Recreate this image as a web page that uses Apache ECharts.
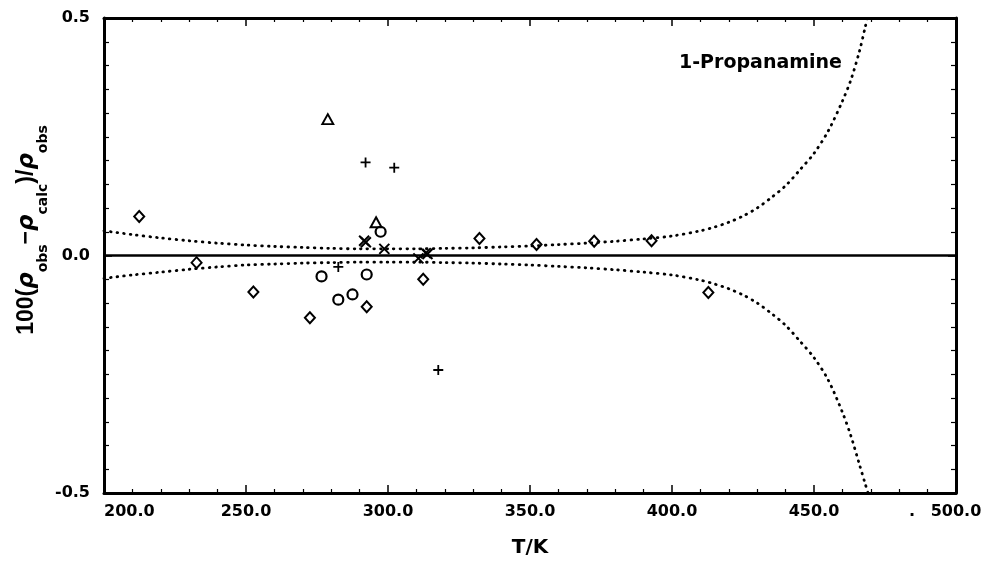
<!DOCTYPE html>
<html>
<head>
<meta charset="utf-8">
<script src="https://cdn.jsdelivr.net/npm/echarts/dist/echarts.min.js"></script>
<style>
  html, body { margin: 0; padding: 0; background: #fff; }
  #main { width: 990px; height: 563px; }
</style>
</head>
<body>
<div id="main"></div>
<script>
// 刻度
var xTicks = [200, 250, 300, 350, 400, 450, 500];
var yTicks = [-0.5, 0.0, 0.5];

// 计算值的置信带 (上/下)
var curveT     = [200, 210, 220, 230, 240, 250, 260, 270, 280, 290, 300, 310, 320, 330, 340, 350, 360, 370, 380, 390, 400, 410, 415, 420, 425, 430, 435, 440, 445, 450, 455, 460, 463, 466, 468, 470];
var curveUpper = [0.052, 0.044, 0.037, 0.031, 0.026, 0.022, 0.019, 0.017, 0.015, 0.014, 0.014, 0.014, 0.015, 0.016, 0.018, 0.020, 0.023, 0.026, 0.030, 0.035, 0.041, 0.052, 0.060, 0.070, 0.083, 0.100, 0.122, 0.147, 0.180, 0.215, 0.262, 0.325, 0.370, 0.430, 0.480, 0.530];
var curveLower = [-0.048, -0.041, -0.035, -0.029, -0.024, -0.020, -0.018, -0.016, -0.015, -0.014, -0.014, -0.014, -0.015, -0.016, -0.018, -0.020, -0.023, -0.026, -0.030, -0.035, -0.041, -0.052, -0.060, -0.070, -0.083, -0.100, -0.122, -0.147, -0.180, -0.215, -0.262, -0.330, -0.380, -0.440, -0.480, -0.520];

// 零线
var zeroT = [200, 500];
var zeroV = [0, 0];

// 各来源的实验点
var diamondT = [212.4, 232.6, 252.6, 272.5, 292.5, 312.4, 332.2, 352.3, 372.6, 392.8, 412.8];
var diamondV = [0.082, -0.015, -0.077, -0.131, -0.108, -0.050, 0.036, 0.023, 0.030, 0.031, -0.078];
var circleT  = [276.6, 282.5, 287.5, 292.5, 297.4];
var circleV  = [-0.044, -0.093, -0.082, -0.040, 0.050];
var plusT    = [282.5, 292.1, 302.2, 317.7];
var plusV    = [-0.024, 0.196, 0.185, -0.241];
var triT     = [278.8, 295.8];
var triV     = [0.287, 0.070];
var crossT   = [291.6, 292.2, 298.7, 310.7, 313.3, 313.9];
var crossV   = [0.031, 0.028, 0.014, -0.006, 0.005, 0.003];

function zip(a, b) {
  var out = [];
  for (var i = 0; i < a.length; i++) {
    out.push([a[i], b[i]]);
  }
  return out;
}

var FONT = 'DejaVu Sans';
var lineCol = '#000';

function axisCommon(showLabel) {
  return {
    type: 'value',
    axisLine: { show: true, onZero: false, lineStyle: { color: lineCol, width: 3 } },
    axisTick: { show: true, inside: true, length: 8, lineStyle: { color: lineCol, width: 1.5 } },
    splitLine: { show: false },
    axisLabel: {
      show: showLabel,
      color: '#000',
      fontFamily: FONT,
      fontWeight: 'bold',
      fontSize: 16,
      formatter: function (v) { return v.toFixed(1); }
    }
  };
}

var xBottom = axisCommon(true);
xBottom.position = 'bottom';
xBottom.min = xTicks[0];
xBottom.max = xTicks[xTicks.length - 1];
xBottom.interval = 50;
xBottom.minorTick = { show: true, splitNumber: 5, length: 4, lineStyle: { color: lineCol, width: 1.2 } };
xBottom.axisLabel.margin = 11;
xBottom.axisLabel.alignMinLabel = 'left';
xBottom.name = 'T/K';
xBottom.nameLocation = 'middle';
xBottom.nameGap = 45;
xBottom.nameTextStyle = { fontFamily: FONT, fontWeight: 'bold', fontSize: 20, color: '#000' };

var xTop = axisCommon(false);
xTop.position = 'top';
xTop.min = xTicks[0];
xTop.max = xTicks[xTicks.length - 1];
xTop.interval = 50;
xTop.minorTick = { show: true, splitNumber: 5, length: 4, lineStyle: { color: lineCol, width: 1.2 } };

var yLeft = axisCommon(true);
yLeft.position = 'left';
yLeft.min = yTicks[0];
yLeft.max = yTicks[yTicks.length - 1];
yLeft.interval = 0.5;
yLeft.minorTick = { show: true, splitNumber: 10, length: 5, lineStyle: { color: lineCol, width: 1.2 } };
yLeft.axisLabel.margin = 14;

var yRight = axisCommon(false);
yRight.position = 'right';
yRight.min = yTicks[0];
yRight.max = yTicks[yTicks.length - 1];
yRight.interval = 0.5;
yRight.minorTick = { show: true, splitNumber: 10, length: 5, lineStyle: { color: lineCol, width: 1.2 } };

function scatter(data, symbol, size, bw) {
  return {
    type: 'scatter',
    xAxisIndex: 0,
    yAxisIndex: 0,
    data: data,
    symbol: symbol,
    symbolSize: size,
    itemStyle: { color: 'none', borderColor: '#000', borderWidth: bw, opacity: 1 },
    emphasis: { disabled: true },
    z: 5
  };
}

var dotted = { color: '#000', width: 2.8, type: [0.6, 6], cap: 'round' };

var myChart = echarts.init(document.getElementById('main'));
var option = {
  animation: false,
  backgroundColor: '#fff',
  grid: { left: 104, right: 34, top: 18, bottom: 69 },
  title: {
    text: '1-Propanamine',
    left: 674,
    top: 49,
    textStyle: { fontFamily: FONT, fontWeight: 'bold', fontSize: 19, color: '#000' }
  },
  xAxis: [xBottom, xTop],
  yAxis: [yLeft, yRight],
  graphic: [
    {
      type: 'text',
      x: 27,
      y: 230,
      rotation: Math.PI / 2,
      style: {
        text: '{m|100(}{r|ρ}{s|obs}{m|−}{r|ρ}{s|calc}{m|)/}{r|ρ}{s|obs}',
        align: 'center',
        verticalAlign: 'middle',
        textAlign: 'center',
        textVerticalAlign: 'middle',
        fill: '#000',
        rich: {
          m: { fontFamily: 'Liberation Sans', fontWeight: 'bold', fontSize: 23, lineHeight: 46, fill: '#000' },
          r: { fontFamily: FONT, fontStyle: 'italic', fontWeight: 'bold', fontSize: 23, lineHeight: 46, fill: '#000' },
          s: { fontFamily: FONT, fontWeight: 'bold', fontSize: 14, lineHeight: 16, verticalAlign: 'bottom', fill: '#000' }
        }
      }
    },
    {
      type: 'text',
      x: 909,
      y: 504,
      style: { text: '.', font: 'bold 16px "DejaVu Sans"', fill: '#000' }
    }
  ],
  series: [
    {
      type: 'line',
      data: zip(zeroT, zeroV),
      symbol: 'none',
      lineStyle: { color: '#000', width: 2.5 },
      silent: true,
      z: 3
    },
    {
      type: 'line',
      data: zip(curveT, curveUpper),
      symbol: 'none',
      smooth: 0.3,
      lineStyle: dotted,
      silent: true,
      z: 2
    },
    {
      type: 'line',
      data: zip(curveT, curveLower),
      symbol: 'none',
      smooth: 0.3,
      lineStyle: dotted,
      silent: true,
      z: 2
    },
    scatter(zip(diamondT, diamondV), 'diamond', [10, 11], 2),
    scatter(zip(circleT, circleV), 'circle', 10, 2.2),
    scatter(zip(plusT, plusV), 'path://M0,5 L10,5 M5,0 L5,10', 10, 1.8),
    scatter(zip(triT, triV), 'triangle', [11, 10], 1.9),
    scatter(zip(crossT, crossV), 'path://M0,0 L10,10 M10,0 L0,10', 10, 2)
  ]
};
myChart.setOption(option);
</script>
</body>
</html>
